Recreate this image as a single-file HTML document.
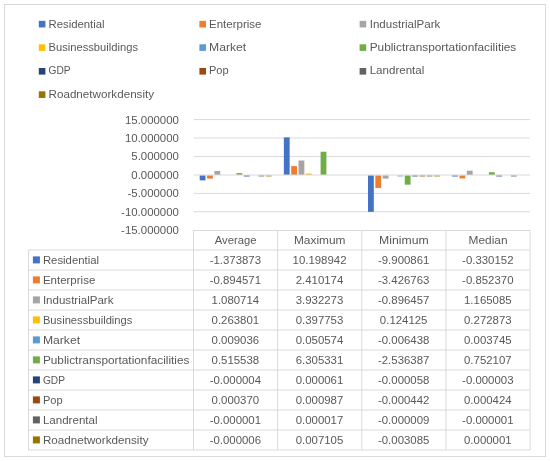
<!DOCTYPE html>
<html><head><meta charset="utf-8"><title>Chart</title>
<style>html,body{margin:0;padding:0;background:#fff}svg{display:block}</style></head>
<body>
<svg xmlns="http://www.w3.org/2000/svg" width="550" height="461" viewBox="0 0 550 461" font-family="'Liberation Sans', sans-serif" font-size="11.3" fill="#595959">
<rect x="0" y="0" width="550" height="461" fill="#fff"/>
<rect x="4.5" y="4.5" width="541.1" height="452.1" fill="none" stroke="#D9D9D9" stroke-width="1"/>
<rect x="38.80" y="20.85" width="6.6" height="6.6" fill="#4472C4"/>
<text x="48.50" y="27.80" textLength="56.12" lengthAdjust="spacingAndGlyphs">Residential</text>
<rect x="199.40" y="20.85" width="6.6" height="6.6" fill="#ED7D31"/>
<text x="209.00" y="27.80" textLength="52.42" lengthAdjust="spacingAndGlyphs">Enterprise</text>
<rect x="359.60" y="20.85" width="6.6" height="6.6" fill="#A5A5A5"/>
<text x="369.70" y="27.80" textLength="70.61" lengthAdjust="spacingAndGlyphs">IndustrialPark</text>
<rect x="38.80" y="44.30" width="6.6" height="6.6" fill="#FFC000"/>
<text x="48.50" y="50.75" textLength="89.48" lengthAdjust="spacingAndGlyphs">Businessbuildings</text>
<rect x="199.40" y="44.30" width="6.6" height="6.6" fill="#5B9BD5"/>
<text x="209.00" y="50.75" textLength="37.18" lengthAdjust="spacingAndGlyphs">Market</text>
<rect x="359.60" y="44.30" width="6.6" height="6.6" fill="#70AD47"/>
<text x="369.70" y="50.75" textLength="146.60" lengthAdjust="spacingAndGlyphs">Publictransportationfacilities</text>
<rect x="38.80" y="68.00" width="6.6" height="6.6" fill="#264478"/>
<text x="48.50" y="74.20" textLength="22.07" lengthAdjust="spacingAndGlyphs">GDP</text>
<rect x="199.40" y="68.00" width="6.6" height="6.6" fill="#9E480E"/>
<text x="209.00" y="74.20" textLength="19.65" lengthAdjust="spacingAndGlyphs">Pop</text>
<rect x="359.60" y="68.00" width="6.6" height="6.6" fill="#636363"/>
<text x="369.70" y="74.20" textLength="54.65" lengthAdjust="spacingAndGlyphs">Landrental</text>
<rect x="38.80" y="91.35" width="6.6" height="6.6" fill="#997300"/>
<text x="48.50" y="97.80" textLength="105.60" lengthAdjust="spacingAndGlyphs">Roadnetworkdensity</text>
<line x1="194.0" y1="119.6" x2="530.1" y2="119.6" stroke="#D9D9D9" stroke-width="1"/>
<line x1="194.0" y1="138.0" x2="530.1" y2="138.0" stroke="#D9D9D9" stroke-width="1"/>
<line x1="194.0" y1="156.6" x2="530.1" y2="156.6" stroke="#D9D9D9" stroke-width="1"/>
<line x1="194.0" y1="193.4" x2="530.1" y2="193.4" stroke="#D9D9D9" stroke-width="1"/>
<line x1="194.0" y1="211.8" x2="530.1" y2="211.8" stroke="#D9D9D9" stroke-width="1"/>
<text x="124.97" y="123.50" textLength="53.93" lengthAdjust="spacingAndGlyphs">15.000000</text>
<text x="124.97" y="141.95" textLength="53.93" lengthAdjust="spacingAndGlyphs">10.000000</text>
<text x="131.32" y="160.40" textLength="47.58" lengthAdjust="spacingAndGlyphs">5.000000</text>
<text x="131.32" y="178.85" textLength="47.58" lengthAdjust="spacingAndGlyphs">0.000000</text>
<text x="127.49" y="197.30" textLength="51.41" lengthAdjust="spacingAndGlyphs">-5.000000</text>
<text x="121.14" y="215.75" textLength="57.76" lengthAdjust="spacingAndGlyphs">-10.000000</text>
<text x="121.14" y="234.20" textLength="57.76" lengthAdjust="spacingAndGlyphs">-15.000000</text>
<rect x="199.70" y="175.30" width="5.8" height="5.07" fill="#4472C4"/>
<rect x="207.05" y="175.30" width="5.8" height="3.30" fill="#ED7D31"/>
<rect x="214.40" y="171.01" width="5.8" height="3.99" fill="#A5A5A5"/>
<rect x="236.45" y="173.10" width="5.8" height="1.90" fill="#70AD47"/>
<rect x="243.80" y="175.50" width="5.8" height="0.90" fill="#264478"/>
<rect x="258.50" y="175.50" width="5.8" height="0.90" fill="#636363"/>
<rect x="265.85" y="175.50" width="5.8" height="0.90" fill="#997300"/>
<rect x="283.85" y="137.37" width="5.8" height="37.63" fill="#4472C4"/>
<rect x="291.20" y="166.11" width="5.8" height="8.89" fill="#ED7D31"/>
<rect x="298.55" y="160.49" width="5.8" height="14.51" fill="#A5A5A5"/>
<rect x="305.90" y="173.53" width="5.8" height="1.47" fill="#FFC000"/>
<rect x="320.60" y="151.73" width="5.8" height="23.27" fill="#70AD47"/>
<rect x="368.00" y="175.30" width="5.8" height="36.53" fill="#4472C4"/>
<rect x="375.35" y="175.30" width="5.8" height="12.64" fill="#ED7D31"/>
<rect x="382.70" y="175.30" width="5.8" height="3.31" fill="#A5A5A5"/>
<rect x="397.40" y="175.50" width="5.8" height="0.90" fill="#5B9BD5"/>
<rect x="404.75" y="175.30" width="5.8" height="9.36" fill="#70AD47"/>
<rect x="412.10" y="175.50" width="5.8" height="0.90" fill="#264478"/>
<rect x="419.45" y="175.50" width="5.8" height="0.90" fill="#9E480E"/>
<rect x="426.80" y="175.50" width="5.8" height="0.90" fill="#636363"/>
<rect x="434.15" y="175.50" width="5.8" height="0.90" fill="#997300"/>
<rect x="452.15" y="175.30" width="5.8" height="1.22" fill="#4472C4"/>
<rect x="459.50" y="175.30" width="5.8" height="3.15" fill="#ED7D31"/>
<rect x="466.85" y="170.70" width="5.8" height="4.30" fill="#A5A5A5"/>
<rect x="488.90" y="172.22" width="5.8" height="2.78" fill="#70AD47"/>
<rect x="496.25" y="175.50" width="5.8" height="0.90" fill="#264478"/>
<rect x="510.95" y="175.50" width="5.8" height="0.90" fill="#636363"/>
<line x1="194.0" y1="175.0" x2="530.1" y2="175.0" stroke="#D9D9D9" stroke-width="1"/>
<g stroke="#D9D9D9" stroke-width="1" fill="none">
<line x1="193.5" y1="230.5" x2="530.1" y2="230.5"/>
<line x1="28.5" y1="250.00" x2="530.1" y2="250.00"/>
<line x1="28.5" y1="270.00" x2="530.1" y2="270.00"/>
<line x1="28.5" y1="290.00" x2="530.1" y2="290.00"/>
<line x1="28.5" y1="310.00" x2="530.1" y2="310.00"/>
<line x1="28.5" y1="330.00" x2="530.1" y2="330.00"/>
<line x1="28.5" y1="350.00" x2="530.1" y2="350.00"/>
<line x1="28.5" y1="370.00" x2="530.1" y2="370.00"/>
<line x1="28.5" y1="390.00" x2="530.1" y2="390.00"/>
<line x1="28.5" y1="410.00" x2="530.1" y2="410.00"/>
<line x1="28.5" y1="430.00" x2="530.1" y2="430.00"/>
<line x1="28.5" y1="450.00" x2="530.1" y2="450.00"/>
<line x1="28.5" y1="250.0" x2="28.5" y2="450.00"/>
<line x1="193.5" y1="230.5" x2="193.5" y2="450.00"/>
<line x1="277.6" y1="230.5" x2="277.6" y2="450.00"/>
<line x1="361.8" y1="230.5" x2="361.8" y2="450.00"/>
<line x1="446.0" y1="230.5" x2="446.0" y2="450.00"/>
<line x1="530.1" y1="230.5" x2="530.1" y2="450.00"/>
</g>
<text x="214.77" y="244.05" textLength="41.61" lengthAdjust="spacingAndGlyphs">Average</text>
<text x="293.94" y="244.05" textLength="51.58" lengthAdjust="spacingAndGlyphs">Maximum</text>
<text x="379.07" y="244.05" textLength="49.61" lengthAdjust="spacingAndGlyphs">Minimum</text>
<text x="468.55" y="244.05" textLength="38.96" lengthAdjust="spacingAndGlyphs">Median</text>
<rect x="32.9" y="256.40" width="7.0" height="7.0" fill="#4472C4"/>
<text x="42.90" y="263.60" textLength="56.12" lengthAdjust="spacingAndGlyphs">Residential</text>
<text x="209.67" y="263.60" textLength="51.41" lengthAdjust="spacingAndGlyphs">-1.373873</text>
<text x="292.56" y="263.60" textLength="53.93" lengthAdjust="spacingAndGlyphs">10.198942</text>
<text x="377.97" y="263.60" textLength="51.41" lengthAdjust="spacingAndGlyphs">-9.900861</text>
<text x="462.12" y="263.60" textLength="51.41" lengthAdjust="spacingAndGlyphs">-0.330152</text>
<rect x="32.9" y="276.40" width="7.0" height="7.0" fill="#ED7D31"/>
<text x="42.90" y="283.60" textLength="52.42" lengthAdjust="spacingAndGlyphs">Enterprise</text>
<text x="209.67" y="283.60" textLength="51.41" lengthAdjust="spacingAndGlyphs">-0.894571</text>
<text x="295.74" y="283.60" textLength="47.58" lengthAdjust="spacingAndGlyphs">2.410174</text>
<text x="377.97" y="283.60" textLength="51.41" lengthAdjust="spacingAndGlyphs">-3.426763</text>
<text x="462.12" y="283.60" textLength="51.41" lengthAdjust="spacingAndGlyphs">-0.852370</text>
<rect x="32.9" y="296.40" width="7.0" height="7.0" fill="#A5A5A5"/>
<text x="42.90" y="303.60" textLength="70.61" lengthAdjust="spacingAndGlyphs">IndustrialPark</text>
<text x="211.59" y="303.60" textLength="47.58" lengthAdjust="spacingAndGlyphs">1.080714</text>
<text x="295.74" y="303.60" textLength="47.58" lengthAdjust="spacingAndGlyphs">3.932273</text>
<text x="377.97" y="303.60" textLength="51.41" lengthAdjust="spacingAndGlyphs">-0.896457</text>
<text x="464.04" y="303.60" textLength="47.58" lengthAdjust="spacingAndGlyphs">1.165085</text>
<rect x="32.9" y="316.40" width="7.0" height="7.0" fill="#FFC000"/>
<text x="42.90" y="323.60" textLength="89.48" lengthAdjust="spacingAndGlyphs">Businessbuildings</text>
<text x="211.59" y="323.60" textLength="47.58" lengthAdjust="spacingAndGlyphs">0.263801</text>
<text x="295.74" y="323.60" textLength="47.58" lengthAdjust="spacingAndGlyphs">0.397753</text>
<text x="379.89" y="323.60" textLength="47.58" lengthAdjust="spacingAndGlyphs">0.124125</text>
<text x="464.04" y="323.60" textLength="47.58" lengthAdjust="spacingAndGlyphs">0.272873</text>
<rect x="32.9" y="336.40" width="7.0" height="7.0" fill="#5B9BD5"/>
<text x="42.90" y="343.60" textLength="37.18" lengthAdjust="spacingAndGlyphs">Market</text>
<text x="211.59" y="343.60" textLength="47.58" lengthAdjust="spacingAndGlyphs">0.009036</text>
<text x="295.74" y="343.60" textLength="47.58" lengthAdjust="spacingAndGlyphs">0.050574</text>
<text x="377.97" y="343.60" textLength="51.41" lengthAdjust="spacingAndGlyphs">-0.006438</text>
<text x="464.04" y="343.60" textLength="47.58" lengthAdjust="spacingAndGlyphs">0.003745</text>
<rect x="32.9" y="356.40" width="7.0" height="7.0" fill="#70AD47"/>
<text x="42.90" y="363.60" textLength="146.60" lengthAdjust="spacingAndGlyphs">Publictransportationfacilities</text>
<text x="211.59" y="363.60" textLength="47.58" lengthAdjust="spacingAndGlyphs">0.515538</text>
<text x="295.74" y="363.60" textLength="47.58" lengthAdjust="spacingAndGlyphs">6.305331</text>
<text x="377.97" y="363.60" textLength="51.41" lengthAdjust="spacingAndGlyphs">-2.536387</text>
<text x="464.04" y="363.60" textLength="47.58" lengthAdjust="spacingAndGlyphs">0.752107</text>
<rect x="32.9" y="376.40" width="7.0" height="7.0" fill="#264478"/>
<text x="42.90" y="383.60" textLength="22.07" lengthAdjust="spacingAndGlyphs">GDP</text>
<text x="209.67" y="383.60" textLength="51.41" lengthAdjust="spacingAndGlyphs">-0.000004</text>
<text x="295.74" y="383.60" textLength="47.58" lengthAdjust="spacingAndGlyphs">0.000061</text>
<text x="377.97" y="383.60" textLength="51.41" lengthAdjust="spacingAndGlyphs">-0.000058</text>
<text x="462.12" y="383.60" textLength="51.41" lengthAdjust="spacingAndGlyphs">-0.000003</text>
<rect x="32.9" y="396.40" width="7.0" height="7.0" fill="#9E480E"/>
<text x="42.90" y="403.60" textLength="19.65" lengthAdjust="spacingAndGlyphs">Pop</text>
<text x="211.59" y="403.60" textLength="47.58" lengthAdjust="spacingAndGlyphs">0.000370</text>
<text x="295.74" y="403.60" textLength="47.58" lengthAdjust="spacingAndGlyphs">0.000987</text>
<text x="377.97" y="403.60" textLength="51.41" lengthAdjust="spacingAndGlyphs">-0.000442</text>
<text x="464.04" y="403.60" textLength="47.58" lengthAdjust="spacingAndGlyphs">0.000424</text>
<rect x="32.9" y="416.40" width="7.0" height="7.0" fill="#636363"/>
<text x="42.90" y="423.60" textLength="54.65" lengthAdjust="spacingAndGlyphs">Landrental</text>
<text x="209.67" y="423.60" textLength="51.41" lengthAdjust="spacingAndGlyphs">-0.000001</text>
<text x="295.74" y="423.60" textLength="47.58" lengthAdjust="spacingAndGlyphs">0.000017</text>
<text x="377.97" y="423.60" textLength="51.41" lengthAdjust="spacingAndGlyphs">-0.000009</text>
<text x="462.12" y="423.60" textLength="51.41" lengthAdjust="spacingAndGlyphs">-0.000001</text>
<rect x="32.9" y="436.40" width="7.0" height="7.0" fill="#997300"/>
<text x="42.90" y="443.60" textLength="105.60" lengthAdjust="spacingAndGlyphs">Roadnetworkdensity</text>
<text x="209.67" y="443.60" textLength="51.41" lengthAdjust="spacingAndGlyphs">-0.000006</text>
<text x="295.74" y="443.60" textLength="47.58" lengthAdjust="spacingAndGlyphs">0.007105</text>
<text x="377.97" y="443.60" textLength="51.41" lengthAdjust="spacingAndGlyphs">-0.003085</text>
<text x="464.04" y="443.60" textLength="47.58" lengthAdjust="spacingAndGlyphs">0.000001</text>
</svg>
</body></html>
